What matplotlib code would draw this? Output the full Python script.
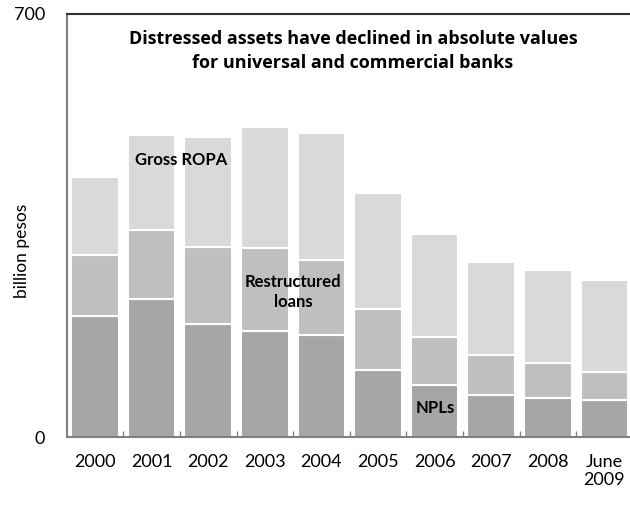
import matplotlib.pyplot as plt

years = ["2000", "2001", "2002", "2003", "2004", "2005", "2006", "2007", "2008", "June\n2009"]
npls = [200, 228, 187, 176, 168, 111, 86, 70, 65, 61]
restructured = [101, 114, 128, 136, 125, 101, 80, 66, 57, 47]
ropa = [130, 157, 182, 201, 210, 192, 170, 154, 154, 152]

plt.rcParams['font.family'] = ['Lato', 'DejaVu Sans']

fig = plt.figure(figsize=(6.3, 5.12), dpi=100)
ax = fig.add_axes([67 / 630, 1 - 437 / 512, 563 / 630, 423 / 512])

x = list(range(len(years)))
mid = [a + b for a, b in zip(npls, restructured)]

bw = 0.84
ax.bar(x, npls, width=bw, color="#a6a6a6", edgecolor="white", linewidth=1.5)
ax.bar(x, restructured, bottom=npls, width=bw, color="#bfbfbf", edgecolor="white", linewidth=1.5)
ax.bar(x, ropa, bottom=mid, width=bw, color="#d9d9d9", edgecolor="white", linewidth=1.5)

ax.set_xlim(-0.495, 9.452)
ax.set_ylim(0, 700)

# axes look
for s in ["left", "bottom"]:
    ax.spines[s].set_color("#808080")
    ax.spines[s].set_linewidth(1.5)
ax.spines["top"].set_color("#333333")
ax.spines["top"].set_linewidth(1.5)
ax.spines["right"].set_visible(False)

ax.set_yticks([0, 700])
ax.set_yticklabels(["0", "700"], fontsize=13)
ax.tick_params(axis="y", length=0, pad=16)

ax.set_xticks(x)
ax.set_xticklabels(years, fontsize=13)
ax.tick_params(axis="x", length=0, pad=12)
ax.set_xticks([i + 0.5 for i in range(len(years) - 1)], minor=True)
ax.tick_params(axis="x", which="minor", direction="in", length=4, color="#808080", width=1)

ax.set_ylabel("billion pesos", fontsize=12.5)
ax.yaxis.set_label_coords(-0.066, 0.44)

# annotations
ax.text(1.53, 458, "Gross ROPA", ha="center", va="center", fontsize=12, fontweight="bold")
ax.text(3.5, 240, "Restructured\nloans", ha="center", va="center", fontsize=12,
        fontweight="bold", linespacing=1.25)
ax.text(6.02, 48, "NPLs", ha="center", va="center", fontsize=12, fontweight="bold")

fig.text(353 / 630, 1 - 51 / 512,
         "Distressed assets have declined in absolute values\nfor universal and commercial banks",
         ha="center", va="center", fontsize=13, fontweight="bold", linespacing=1.4,
         family=["Open Sans", "DejaVu Sans"])

plt.savefig("out.png", dpi=100)
